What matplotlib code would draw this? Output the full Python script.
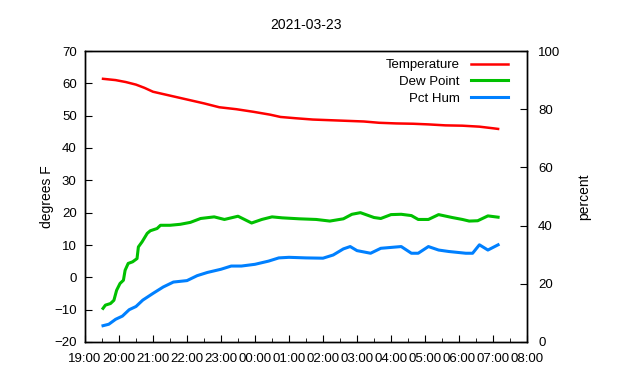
import numpy as np
import matplotlib
matplotlib.use("Agg")
import matplotlib.pyplot as plt
from matplotlib.ticker import MultipleLocator

plt.rcParams['font.family'] = ['Liberation Sans', 'DejaVu Sans']

# hours after 19:00 on 2021-03-22
t_temp = [0.53, 0.9, 1.2, 1.5, 1.75, 2.0, 2.5, 3.0, 3.5, 3.95, 4.45, 4.95, 5.45, 5.75,
          6.2, 6.7, 7.2, 7.7, 8.2, 8.65, 9.15, 9.65, 10.1, 10.6, 11.1, 11.6, 12.0, 12.15]
temp = [61.4, 61.0, 60.4, 59.6, 58.6, 57.4, 56.2, 55.0, 53.8, 52.6, 52.0, 51.2, 50.3, 49.6,
        49.2, 48.8, 48.6, 48.4, 48.2, 47.8, 47.6, 47.5, 47.3, 47.0, 46.9, 46.6, 46.1, 45.9]

t_dew = [0.53, 0.6, 0.75, 0.85, 0.93, 1.03, 1.13, 1.18, 1.27, 1.4, 1.53, 1.57, 1.68, 1.83,
         1.92, 2.12, 2.22, 2.5, 2.8, 3.1, 3.4, 3.8, 4.1, 4.5, 4.9, 5.2, 5.5, 5.8,
         6.3, 6.8, 7.2, 7.6, 7.85, 8.1, 8.5, 8.7, 9.0, 9.3, 9.6, 9.8, 10.1, 10.4,
         10.8, 11.1, 11.3, 11.55, 11.85, 12.15]
dew = [-9.6, -8.6, -8.1, -7.1, -4.0, -1.9, -0.9, 2.2, 4.3, 4.8, 5.8, 9.4, 11.0, 13.6,
       14.4, 15.1, 16.1, 16.1, 16.4, 17.0, 18.2, 18.7, 17.9, 18.9, 16.8, 17.9, 18.7, 18.4,
       18.1, 17.9, 17.4, 18.1, 19.5, 20.0, 18.5, 18.2, 19.4, 19.5, 19.1, 17.9, 17.9, 19.4,
       18.5, 17.9, 17.4, 17.5, 19.0, 18.6]

t_hum = [0.53, 0.7, 0.9, 1.1, 1.3, 1.5, 1.7, 2.0, 2.3, 2.6, 3.0, 3.3, 3.6, 4.0,
         4.3, 4.6, 5.0, 5.4, 5.7, 6.0, 6.5, 7.0, 7.3, 7.6, 7.8, 8.0, 8.4, 8.7,
         9.3, 9.6, 9.8, 10.1, 10.4, 10.7, 11.2, 11.4, 11.6, 11.85, 12.15]
hum = [5.6, 6.1, 7.8, 8.9, 11.1, 12.2, 14.4, 16.7, 18.9, 20.6, 21.1, 22.8, 23.9, 25.0,
       26.1, 26.1, 26.7, 27.8, 28.9, 29.1, 28.9, 28.8, 29.9, 32.0, 32.8, 31.4, 30.5, 32.2,
       32.8, 30.5, 30.5, 32.8, 31.6, 31.1, 30.5, 30.5, 33.4, 31.6, 33.4]

xtick_labels = ["19:00", "20:00", "21:00", "22:00", "23:00", "00:00", "01:00",
                "02:00", "03:00", "04:00", "05:00", "06:00", "07:00", "08:00"]

fig = plt.figure(figsize=(6.4, 3.8), dpi=100)
ax = fig.add_axes([85 / 640, 1 - 342 / 380, 442 / 640, 291 / 380])
ax2 = ax.twinx()

l1, = ax.plot(t_temp, temp, color='#ff0000', lw=1.8, label='Temperature')
l2, = ax.plot(t_dew, dew, color='#00c000', lw=2.2, label='Dew Point')
l3, = ax2.plot(t_hum, hum, color='#0080ff', lw=2.2, label='Pct Hum')

ax.set_xlim(0, 13)
ax.set_ylim(-20, 70)
ax2.set_ylim(0, 100)
ax.set_xticks(range(len(xtick_labels)))
ax.set_xticklabels(xtick_labels)
ax.xaxis.set_minor_locator(MultipleLocator(0.5))
ax.set_yticks(range(-20, 71, 10))
ax2.set_yticks(range(0, 101, 20))

ax.tick_params(axis='both', which='both', direction='in', labelsize=9.5, colors='black')
ax.tick_params(axis='x', which='major', length=5, pad=8)
ax.tick_params(axis='x', which='minor', length=3)
ax.tick_params(axis='y', length=5, pad=6)
ax2.tick_params(axis='y', direction='in', length=5, labelsize=9.5, pad=8)

ax.set_ylabel('degrees F', fontsize=10, labelpad=0)
ax2.set_ylabel('percent', fontsize=10, labelpad=12)
fig.text(306 / 640, 1 - 25 / 380, '2021-03-23', ha='center', va='center', fontsize=10)

for a in (ax, ax2):
    for s in a.spines.values():
        s.set_linewidth(1)

ax.legend(handles=[l1, l2, l3], loc='upper right', frameon=False, markerfirst=False,
          fontsize=9.5, handlelength=2.8, handletextpad=0.85, labelspacing=0.35,
          borderaxespad=0.2, bbox_to_anchor=(0.975, 1.0))

fig.savefig('out.png', dpi=100)
